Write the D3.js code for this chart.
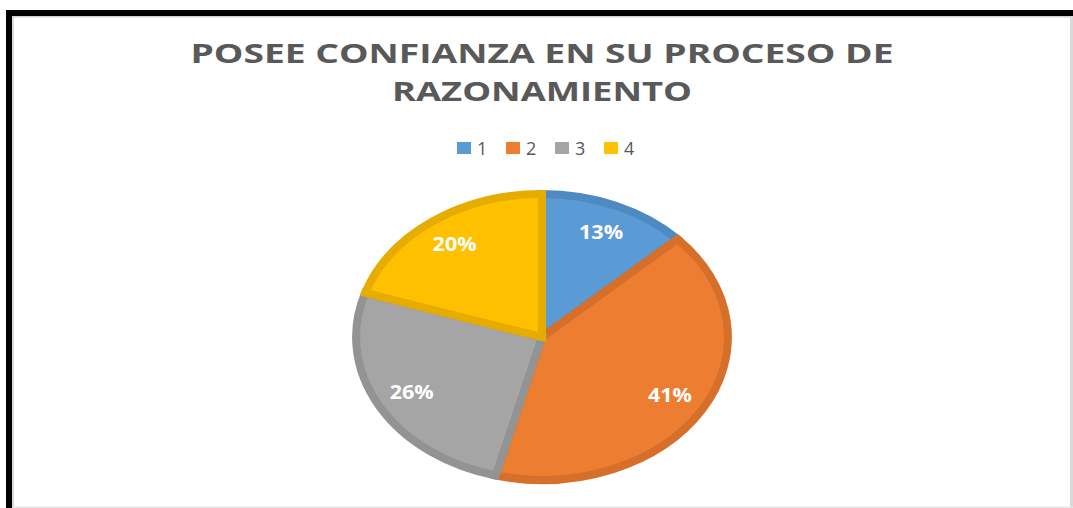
<!DOCTYPE html>
<html>
<head>
<meta charset="utf-8">
<title>Posee confianza</title>
<script src="https://cdn.jsdelivr.net/npm/d3@7"></script>
<style>
  body { margin: 0; background: #fff; }
  svg { display: block; }
</style>
</head>
<body>
<svg width="1073" height="508"></svg>
<script>
// datos
var categories = ["1", "2", "3", "4"];
var values = [13, 41, 26, 20];
var fills = ["#5B9BD5", "#ED7D31", "#A5A5A5", "#FFC000"];
var strokes = ["#4F89C2", "#D66F2A", "#939393", "#E6AC00"];
var titleLines = ["POSEE CONFIANZA EN SU PROCESO DE", "RAZONAMIENTO"];
var titleWidths = [703, 300];

var svg = d3.select("svg");
var W = +svg.attr("width"), H = +svg.attr("height");

// marco
svg.append("rect").attr("x", 12).attr("y", 16).attr("width", W - 12).attr("height", H - 16)
  .attr("fill", "#fff");
svg.append("rect").attr("x", 12).attr("y", 16).attr("width", 2).attr("height", H - 16).attr("fill", "#d9d9d9");
svg.append("rect").attr("x", 12).attr("y", 16).attr("width", W - 12).attr("height", 1.5).attr("fill", "#d0d0d0");
svg.append("rect").attr("x", W - 3).attr("y", 16).attr("width", 3).attr("height", H - 16).attr("fill", "#d9d9d9");
svg.append("rect").attr("x", 12).attr("y", H - 1.5).attr("width", W - 12).attr("height", 1.5).attr("fill", "#e6e6e6");
svg.append("rect").attr("x", 6).attr("y", 10).attr("width", W - 6).attr("height", 6).attr("fill", "#000");
svg.append("rect").attr("x", 6).attr("y", 10).attr("width", 6).attr("height", H - 10).attr("fill", "#000");

// titulo
svg.append("g").selectAll("text")
  .data(titleLines)
  .enter().append("text")
  .attr("x", function(d, i) { return 542 - titleWidths[i] / 2; })
  .attr("y", function(d, i) { return 63 + i * 38; })
  .attr("textLength", function(d, i) { return titleWidths[i]; })
  .attr("lengthAdjust", "spacingAndGlyphs")
  .attr("font-family", "Open Sans, sans-serif")
  .attr("font-weight", "bold")
  .attr("font-size", 27)
  .attr("fill", "#595959")
  .text(function(d) { return d; });

// leyenda
var legend = svg.append("g").attr("transform", "translate(457,142)");
var li = legend.selectAll("g").data(categories).enter().append("g")
  .attr("transform", function(d, i) { return "translate(" + (i * 49) + ",0)"; });
li.append("rect").attr("width", 14).attr("height", 12)
  .attr("fill", function(d, i) { return fills[i]; });
li.append("text").attr("x", 20).attr("y", 13)
  .attr("font-family", "Open Sans, sans-serif")
  .attr("font-size", 18)
  .attr("fill", "#595959")
  .text(function(d) { return d; });

// pastel (eliptico)
var cx = 542, cy = 337, r = 143, sx = 1.3;
var pie = d3.pie().sort(null).value(function(d) { return d; });
var arcs = pie(values);
var arc = d3.arc().innerRadius(0).outerRadius(r);
var labelArc = d3.arc().innerRadius(r * 0.8).outerRadius(r * 0.8);

var g = svg.append("g").attr("transform", "translate(" + cx + "," + cy + ")");
g.append("g").attr("transform", "scale(" + sx + ",1)")
  .selectAll("path").data(arcs).enter().append("path")
  .attr("d", arc)
  .attr("fill", function(d, i) { return fills[i]; })
  .attr("stroke", function(d, i) { return strokes[i]; })
  .attr("stroke-width", 8)
  .attr("stroke-linejoin", "miter")
  .attr("vector-effect", "non-scaling-stroke");

var total = d3.sum(values);
g.append("g").selectAll("text").data(arcs).enter().append("text")
  .attr("x", function(d) { return labelArc.centroid(d)[0] * sx - 22; })
  .attr("y", function(d) { return labelArc.centroid(d)[1]; })
  .attr("dy", "0.35em")
  .attr("textLength", 44)
  .attr("lengthAdjust", "spacingAndGlyphs")
  .attr("font-family", "Open Sans, sans-serif")
  .attr("font-weight", "bold")
  .attr("font-size", 19)
  .attr("fill", "#fff")
  .text(function(d) { return Math.round(d.value / total * 100) + "%"; });
</script>
</body>
</html>
